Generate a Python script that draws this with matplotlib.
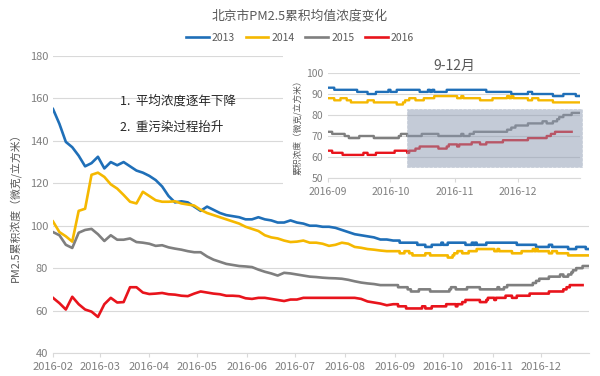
"""
Beijing PM2.5 cumulative mean concentration, 2013-2016, with a Sep-Dec inset.
"""

import pandas as pd
import matplotlib
matplotlib.use('Agg')
import matplotlib.pyplot as plt
import matplotlib.dates as mdates
from matplotlib.patches import Rectangle

plt.rcParams['font.family'] = ['Noto Sans CJK SC', 'DejaVu Sans']

TITLE = '北京市PM2.5累积均值浓度变化'
YLABEL = 'PM2.5累积浓度（微克/立方米）'
INSET_TITLE = '9-12月'
INSET_YLABEL = '累积浓度（微克/立方米）'
NOTES = ['1.  平均浓度逐年下降', '2.  重污染过程抬升']

YEARS = ['2013', '2014', '2015', '2016']
COLORS = {'2013': '#1f6fb8', '2014': '#f5b800', '2015': '#7f7f7f', '2016': '#e8141c'}

# Feb-Aug: one value every 4 days starting 2016-02-01
MAIN_DATES = pd.date_range('2016-02-01', '2016-08-31', freq='4D')

v2013 = [155, 148, 139.5, 137, 133, 128, 129.5, 132.5, 127, 130, 128.5, 130, 128, 126,
         125, 123.5, 121.5, 118.5, 114, 111, 111.5, 111, 109, 107, 109, 107.5, 106, 105,
         104.5, 104, 103, 103, 104, 103, 102.5, 101.5, 101.5, 102.5, 101.5, 101, 100, 100,
         99.5, 99.5, 99, 98, 97, 96, 95.5, 95, 94.5, 93.5, 93.5, 93]
v2014 = [102, 97, 95, 92.5, 107, 108, 124, 125, 123, 119.5, 117.5, 114.5, 111.3, 110.5,
         116, 114, 112, 111.3, 111.3, 111.5, 110.5, 110, 109.5, 107.5, 106, 105, 104, 103,
         102, 101, 99.5, 98.5, 97.5, 95.5, 94.5, 94, 93, 92.3, 92.5, 93, 92, 92, 91.5,
         90.5, 91, 92, 91.5, 90, 89.6, 89, 88.7, 88.3, 88, 88]
v2015 = [97, 95.5, 91, 89.5, 96.7, 98, 98.5, 96, 92.8, 95.5, 93.4, 93.4, 94, 92.3, 92,
         91.5, 90.5, 90.8, 89.8, 89.2, 88.7, 88, 87.5, 87.5, 85.5, 84, 83, 82, 81.5, 81,
         80.8, 80.5, 79.3, 78.3, 77.5, 76.5, 77.8, 77.5, 77, 76.5, 76, 75.8, 75.5, 75.3,
         75.2, 75, 74.5, 73.8, 73.2, 72.8, 72.5, 72, 72, 72]
v2016 = [66, 63.5, 60.5, 66.5, 63, 60.5, 59.5, 57, 63, 66, 63.8, 64, 71, 71, 68.5, 67.8,
         68, 68.3, 67.7, 67.5, 67, 66.8, 68, 69, 68.5, 68, 67.7, 67, 67, 66.8, 65.8, 65.5,
         66, 66, 65.5, 65, 64.5, 65.2, 65.2, 66, 66, 66, 66, 66, 66, 66, 66, 66, 65.5,
         64.3, 63.8, 63.3, 62.5, 63]

# Sep-Dec: step changes (date where the value changes, new value)
s2013_dates = ['09-01', '09-04', '09-15', '09-20', '09-24', '09-30', '10-01', '10-04',
               '10-15', '10-19', '10-20', '10-21', '10-22', '10-28', '11-16', '11-28',
               '12-06', '12-08', '12-18', '12-23', '12-29']
s2013_vals = [93, 92, 91, 90, 91, 92, 91, 92, 91, 92, 91, 92, 91, 92, 91, 90, 91, 90, 89, 90, 89]
s2014_dates = ['09-01', '09-04', '09-07', '09-10', '09-12', '09-20', '09-23', '10-04',
               '10-07', '10-08', '10-10', '10-13', '10-17', '10-22', '11-02', '11-04',
               '11-05', '11-13', '11-19', '11-26', '11-27', '11-28', '11-29', '12-06',
               '12-08', '12-11', '12-18']
s2014_vals = [88, 87, 88, 87, 86, 87, 86, 85, 86, 87, 88, 87, 88, 89, 88, 89, 88, 87, 88,
              89, 88, 89, 88, 87, 88, 87, 86]
s2015_dates = ['09-01', '09-03', '09-09', '09-11', '09-16', '09-23', '10-05', '10-06',
               '10-09', '10-16', '10-24', '11-04', '11-05', '11-08', '11-10', '11-26',
               '11-28', '11-30', '12-06', '12-13', '12-15', '12-18', '12-20', '12-21',
               '12-23', '12-27']
s2015_vals = [72, 71, 70, 69, 70, 69, 70, 71, 70, 71, 70, 71, 70, 71, 72, 73, 74, 75, 76,
              77, 76, 77, 78, 79, 80, 81]
s2016_dates = ['09-01', '09-03', '09-08', '09-18', '09-20', '09-24', '10-03', '10-09',
               '10-10', '10-13', '10-15', '10-24', '10-28', '10-29', '11-02', '11-03',
               '11-09', '11-13', '11-16', '11-24', '12-06', '12-15', '12-17', '12-19']
s2016_vals = [63, 62, 61, 62, 61, 62, 63, 62, 63, 64, 65, 64, 65, 66, 65, 66, 67, 66, 67,
              68, 69, 70, 71, 72]
END_DATES = {'2013': '12-31', '2014': '12-31', '2015': '12-31', '2016': '12-27'}

MAIN_VALUES = {'2013': v2013, '2014': v2014, '2015': v2015, '2016': v2016}
STEP_DATES = {'2013': s2013_dates, '2014': s2014_dates, '2015': s2015_dates, '2016': s2016_dates}
STEP_VALUES = {'2013': s2013_vals, '2014': s2014_vals, '2015': s2015_vals, '2016': s2016_vals}

GRID = '#d9d9d9'
TICK = '#7f7f7f'
TEXT = '#595959'


def build_series(year):
    """Join the Feb-Aug samples with the Sep-Dec step segment."""
    xs = list(MAIN_DATES)
    ys = list(MAIN_VALUES[year])
    dates = [pd.Timestamp('2016-' + d) for d in STEP_DATES[year]]
    vals = STEP_VALUES[year]
    for i, (d, v) in enumerate(zip(dates, vals)):
        if i > 0:
            xs.append(d)
            ys.append(vals[i - 1])
        xs.append(d)
        ys.append(v)
    xs.append(pd.Timestamp('2016-' + END_DATES[year]))
    ys.append(vals[-1])
    return xs, ys


def style_axes(ax, fontsize):
    for side in ['top', 'right', 'left']:
        ax.spines[side].set_visible(False)
    ax.spines['bottom'].set_color(GRID)
    ax.grid(axis='y', color=GRID, linewidth=0.8)
    ax.set_axisbelow(True)
    ax.tick_params(axis='y', length=0, labelsize=fontsize, colors=TICK)
    ax.tick_params(axis='x', length=3, color=GRID, labelsize=fontsize, labelcolor=TICK)
    ax.xaxis.set_major_locator(mdates.MonthLocator())
    ax.xaxis.set_major_formatter(mdates.DateFormatter('%Y-%m'))


def create_chart():
    fig = plt.figure(figsize=(6, 3.76), dpi=100)
    series = {y: build_series(y) for y in YEARS}

    # main chart
    ax = fig.add_axes([53 / 600, 1 - 353 / 376, 536 / 600, 297 / 376])
    for year in YEARS:
        xs, ys = series[year]
        ax.plot(xs, ys, color=COLORS[year], linewidth=1.9, label=year)
    ax.set_xlim(pd.Timestamp('2016-02-01'), pd.Timestamp('2016-12-31'))
    ax.set_ylim(40, 180)
    ax.set_yticks(range(40, 181, 20))
    style_axes(ax, 8)
    ax.set_ylabel(YLABEL, fontsize=7.8, color=TEXT, labelpad=6)

    fig.text(0.5, 1 - 16 / 376, TITLE, ha='center', va='center', fontsize=9.2, color=TEXT)
    handles, labels = ax.get_legend_handles_labels()
    fig.legend(handles, labels, loc='center', bbox_to_anchor=(0.5, 1 - 38 / 376), ncol=4,
               frameon=False, fontsize=7.5, handlelength=2.2, columnspacing=1.0,
               handletextpad=0.3, labelcolor=TEXT)

    for i, note in enumerate(NOTES):
        fig.text(120 / 600, 1 - (101 + 26 * i) / 376, note, ha='left', va='center',
                 fontsize=9, color='#262626')

    # white panel behind the inset
    panel = fig.add_axes([283 / 600, 1 - 197 / 376, 317 / 600, 149 / 376])
    panel.set_xticks([])
    panel.set_yticks([])
    for s in panel.spines.values():
        s.set_visible(False)
    panel.set_facecolor('white')

    # inset Sep-Dec
    ins = fig.add_axes([328 / 600, 1 - 178 / 376, 252 / 600, 105 / 376])
    for year in YEARS:
        xs, ys = series[year]
        ins.plot(xs, ys, color=COLORS[year], linewidth=1.7)
    ins.set_xlim(pd.Timestamp('2016-09-01'), pd.Timestamp('2016-12-31'))
    ins.set_ylim(50, 100)
    ins.set_yticks(range(50, 101, 10))
    style_axes(ins, 7.5)
    ins.set_ylabel(INSET_YLABEL, fontsize=6.3, color=TEXT, labelpad=3)
    ins.set_title(INSET_TITLE, fontsize=10, color=TEXT, pad=2)

    x0 = mdates.date2num(pd.Timestamp('2016-10-09'))
    x1 = mdates.date2num(pd.Timestamp('2017-01-01'))
    ins.add_patch(Rectangle((x0, 55), x1 - x0, 28, facecolor='#8a98b0', alpha=0.5,
                            edgecolor='#b0b8c8', linestyle='--', linewidth=0.6,
                            clip_on=False, zorder=5))

    fig.savefig('out.png', dpi=100)
    plt.close(fig)


def main():
    create_chart()


if __name__ == "__main__":
    main()
